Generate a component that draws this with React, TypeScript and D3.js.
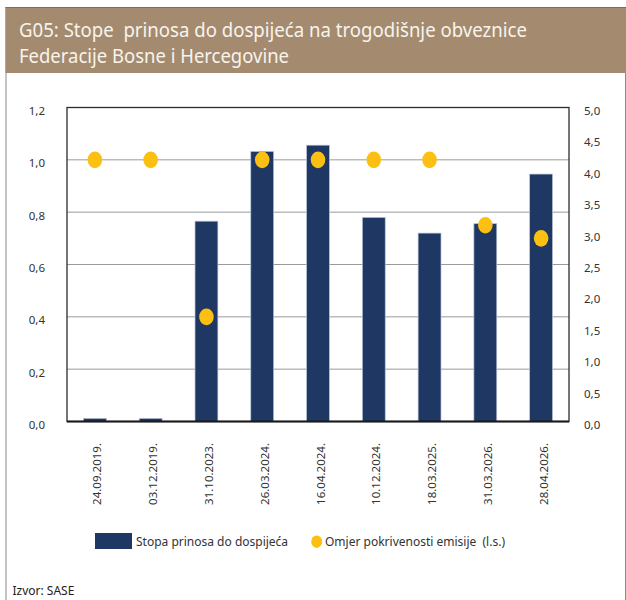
import React from "react";
import * as d3 from "d3";

const categories = [
  "24.09.2019.",
  "03.12.2019.",
  "31.10.2023.",
  "26.03.2024.",
  "16.04.2024.",
  "10.12.2024.",
  "18.03.2025.",
  "31.03.2026.",
  "28.04.2026.",
];
// Stopa prinosa do dospijeća (right axis, %)
const yieldValues = [0.05, 0.05, 3.19, 4.3, 4.4, 3.25, 3.0, 3.15, 3.94];
// Omjer pokrivenosti emisije (left axis)
const coverageValues = [1.0, 1.0, 0.4, 1.0, 1.0, 1.0, 1.0, 0.75, 0.7];
const leftTicks = [0, 0.2, 0.4, 0.6, 0.8, 1.0, 1.2];
const rightTicks = [0, 0.5, 1, 1.5, 2, 2.5, 3, 3.5, 4, 4.5, 5];
const titleLines = [
  "G05: Stope  prinosa do dospijeća na trogodišnje obveznice",
  "Federacije Bosne i Hercegovine",
];
const legendLabels = ["Stopa prinosa do dospijeća", "Omjer pokrivenosti emisije  (l.s.)"];
const sourceText = "Izvor: SASE";

const W = 626;
const H = 600;
const plot = { left: 67, right: 569, top: 107.5, bottom: 421.5 };
const FONT = "'Noto Sans', 'Open Sans', sans-serif";
const BAR = "#1e3763";
const DOT = "#fcc012";
const fmt = (v: number) => v.toFixed(1).replace(".", ",");
const pre = { whiteSpace: "pre" as const };

export default function App() {
  const x = d3.scaleBand<string>().domain(categories).range([plot.left, plot.right]).padding(0);
  const yL = d3.scaleLinear().domain([0, 1.2]).range([plot.bottom, plot.top]);
  const yR = d3.scaleLinear().domain([0, 5]).range([plot.bottom, plot.top]);
  const bw = x.step() * 0.41;

  return (
    <div style={{ position: "absolute", left: 0, top: 0 }}>
      <svg width={W} height={H} style={{ display: "block" }}>
        <rect x={0} y={0} width={W} height={H} fill="#fff" />
        {/* outer frame */}
        <line x1={6} x2={6} y1={7} y2={H} stroke="#8a8a8a" strokeWidth={1} />
        <line x1={625.5} x2={625.5} y1={7} y2={H} stroke="#8a8a8a" strokeWidth={1} />
        {/* banner */}
        <rect x={5.5} y={7} width={W - 5.5} height={66} fill="#a48b70" />
        <line x1={5.5} x2={W} y1={7.5} y2={7.5} stroke="#7d6d5e" strokeWidth={1} />
        {titleLines.map((t, i) => (
          <text
            key={i}
            x={19}
            y={37 + i * 26}
            fill="#f8f4ec"
            fontFamily={FONT}
            fontSize={19}
            textLength={i === 0 ? 508 : 270}
            lengthAdjust="spacingAndGlyphs"
            style={pre}
          >
            {t}
          </text>
        ))}

        {/* gridlines */}
        {leftTicks
          .filter((t) => t > 0 && t < 1.2)
          .map((t) => (
            <line
              key={t}
              x1={plot.left}
              x2={plot.right}
              y1={yL(t)}
              y2={yL(t)}
              stroke="#9a9a9a"
              strokeWidth={1}
            />
          ))}

        {/* bars */}
        {categories.map((c, i) => {
          const cx = (x(c) as number) + x.bandwidth() / 2;
          const yT = yR(yieldValues[i]);
          return (
            <rect
              key={c}
              x={cx - bw / 2}
              y={yT}
              width={bw}
              height={plot.bottom - yT}
              fill={BAR}
              stroke="#b9c3d4"
              strokeWidth={0.7}
            />
          );
        })}

        {/* plot frame */}
        <rect
          x={plot.left}
          y={plot.top}
          width={plot.right - plot.left}
          height={plot.bottom - plot.top}
          fill="none"
          stroke="#2b2b2b"
          strokeWidth={1.3}
        />
        <line x1={plot.left} x2={plot.right} y1={plot.bottom} y2={plot.bottom} stroke="#1a1a1a" strokeWidth={1.8} />

        {/* dots */}
        {categories.map((c, i) => {
          const cx = (x(c) as number) + x.bandwidth() / 2;
          return <ellipse key={c} cx={cx} cy={yL(coverageValues[i])} rx={7.3} ry={8.3} fill={DOT} />;
        })}

        {/* left axis labels */}
        {leftTicks.map((t) => (
          <text key={t} x={45} y={yL(t) + 7.5} textAnchor="end" fontFamily={FONT} fontSize={11.5} fill="#333">
            {fmt(t)}
          </text>
        ))}
        {/* right axis labels */}
        {rightTicks.map((t) => (
          <text key={t} x={584} y={yR(t) + 7.5} textAnchor="start" fontFamily={FONT} fontSize={11.5} fill="#333">
            {fmt(t)}
          </text>
        ))}

        {/* x labels */}
        {categories.map((c) => {
          const cx = (x(c) as number) + x.bandwidth() / 2;
          return (
            <text
              key={c}
              transform={`translate(${cx + 6.5},443) rotate(-90)`}
              textAnchor="end"
              fontFamily={FONT}
              fontSize={11.5}
              fill="#333"
            >
              {c}
            </text>
          );
        })}

        {/* legend */}
        <rect x={95} y={533} width={37} height={16} fill={BAR} />
        <text x={136} y={545.5} fontFamily={FONT} fontSize={12} fill="#333">
          {legendLabels[0]}
        </text>
        <ellipse cx={316.7} cy={541.7} rx={5.5} ry={6.2} fill={DOT} />
        <text x={325} y={545.5} fontFamily={FONT} fontSize={12} fill="#333" style={pre}>
          {legendLabels[1]}
        </text>

        {/* source */}
        <text x={12.5} y={595} fontFamily={FONT} fontSize={12} fill="#222">
          {sourceText}
        </text>
      </svg>
    </div>
  );
}
